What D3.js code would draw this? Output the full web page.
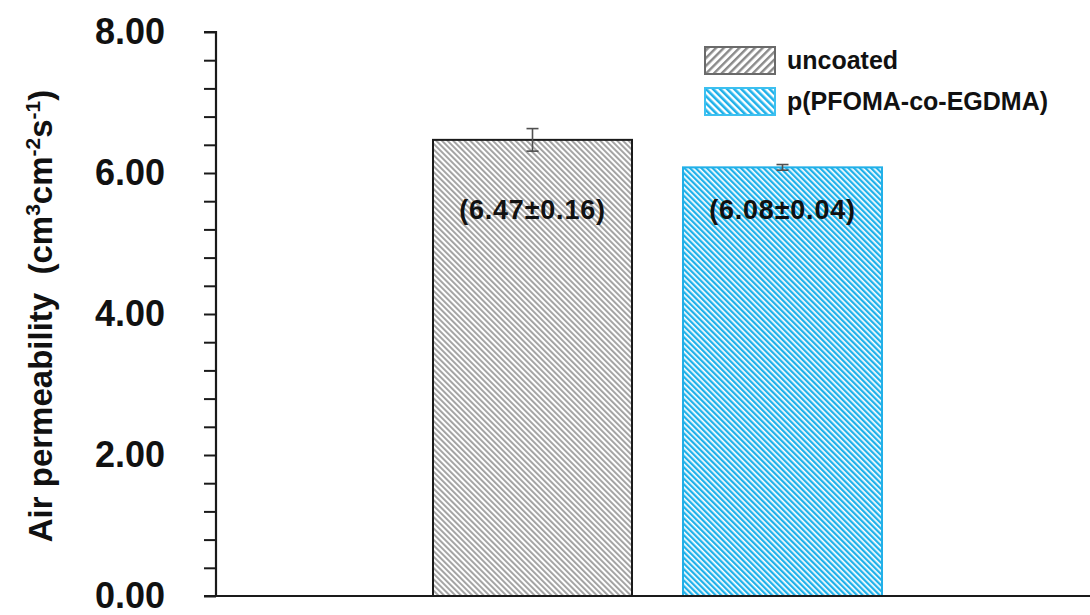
<!DOCTYPE html>
<html>
<head>
<meta charset="utf-8">
<script src="https://cdn.jsdelivr.net/npm/d3@7"></script>
<style>
  html, body { margin: 0; padding: 0; background: #fff; }
  svg { display: block; }
  text { font-family: "Liberation Sans", Arial, sans-serif; font-weight: bold; fill: #111; }
</style>
</head>
<body>
<svg id="chart" width="1090" height="615"></svg>
<script>
// Air permeability of uncoated vs. coated fabric
const categories = ["uncoated", "p(PFOMA-co-EGDMA)"];
const values = [6.47, 6.08];
const errors = [0.16, 0.04];
const valueLabels = ["(6.47\u00b10.16)", "(6.08\u00b10.04)"];
const majorTicks = [0, 2, 4, 6, 8];
const minorTicks = d3.range(0, 8.01, 0.4);

const svg = d3.select("#chart");
const W = 1090, H = 615;
const margin = { left: 216, right: 0, top: 32, bottom: 19 };

const y = d3.scaleLinear().domain([0, 8]).range([H - margin.bottom, margin.top]);
const x = d3.scaleBand()
  .domain(categories)
  .range([433, 882])
  .paddingInner(0.204)
  .paddingOuter(0);

// hatch patterns
const defs = svg.append("defs");
function hatch(id, color, size, stripe, angle) {
  const p = defs.append("pattern")
    .attr("id", id)
    .attr("patternUnits", "userSpaceOnUse")
    .attr("width", size).attr("height", size)
    .attr("patternTransform", `rotate(${angle})`);
  p.append("rect").attr("width", size).attr("height", size).attr("fill", "#fff");
  p.append("rect").attr("width", stripe).attr("height", size).attr("fill", color);
}
hatch("hatchGrayBar", "#a0a0a0", 4, 1.9, -45);
hatch("hatchBlueBar", "#1fb1ea", 4, 2.3, -45);
hatch("hatchGrayLeg", "#8a8a8a", 5.5, 2.4, 45);
hatch("hatchBlueLeg", "#1fb1ea", 5, 2.6, -45);

const fills = ["url(#hatchGrayBar)", "url(#hatchBlueBar)"];
const strokes = ["#1a1a1a", "#22b0e8"];
const legendFills = ["url(#hatchGrayLeg)", "url(#hatchBlueLeg)"];
const legendStrokes = ["#6a6a6a", "#3cc0f0"];

// bars
const bw = x.bandwidth();
svg.append("g").selectAll("rect")
  .data(categories)
  .join("rect")
  .attr("x", d => x(d))
  .attr("y", (d, i) => y(values[i]))
  .attr("width", bw)
  .attr("height", (d, i) => y(0) - y(values[i]))
  .attr("fill", (d, i) => fills[i])
  .attr("stroke", (d, i) => strokes[i])
  .attr("stroke-width", 2);

// error bars
const eb = svg.append("g").attr("stroke", "#505050").attr("stroke-width", 1.6);
categories.forEach((c, i) => {
  const cx = x(c) + bw / 2;
  const hi = y(values[i] + errors[i]), lo = y(values[i] - errors[i]);
  eb.append("line").attr("x1", cx).attr("x2", cx).attr("y1", hi).attr("y2", lo);
  eb.append("line").attr("x1", cx - 6).attr("x2", cx + 6).attr("y1", hi).attr("y2", hi);
  eb.append("line").attr("x1", cx - 6).attr("x2", cx + 6).attr("y1", lo).attr("y2", lo);
});

// value labels
svg.append("g").selectAll("text")
  .data(categories)
  .join("text")
  .attr("x", d => x(d) + bw / 2)
  .attr("y", 219)
  .attr("text-anchor", "middle")
  .attr("font-size", 27)
  .attr("letter-spacing", 0.8)
  .text((d, i) => valueLabels[i]);

// y axis
const yAxis = d3.axisLeft(y).tickValues(minorTicks).tickSize(12).tickFormat("");
const gy = svg.append("g").attr("transform", `translate(${margin.left},0)`).call(yAxis);
gy.select(".domain").attr("stroke", "#1a1a1a").attr("stroke-width", 2.2).attr("d", `M-12,${y(8)}H0V${y(0)}`);
gy.selectAll(".tick line").attr("stroke", "#1a1a1a").attr("stroke-width", 2);

svg.append("g").selectAll("text")
  .data(majorTicks)
  .join("text")
  .attr("x", 165)
  .attr("y", d => y(d) + 12)
  .attr("text-anchor", "end")
  .attr("font-size", 36)
  .text(d => d.toFixed(2));

// x axis baseline
svg.append("line")
  .attr("x1", margin.left - 12).attr("x2", W)
  .attr("y1", y(0)).attr("y2", y(0))
  .attr("stroke", "#1a1a1a").attr("stroke-width", 2.2);

// y axis title
const yt = svg.append("text")
  .attr("transform", `translate(52,${316}) rotate(-90)`)
  .attr("text-anchor", "middle")
  .attr("font-size", 33);
yt.append("tspan").text("Air permeability\u00a0\u00a0(cm");
yt.append("tspan").attr("font-size", 21).attr("dy", -12).text("3");
yt.append("tspan").attr("dy", 12).text("cm");
yt.append("tspan").attr("font-size", 21).attr("dy", -12).text("-2");
yt.append("tspan").attr("dy", 12).text("s");
yt.append("tspan").attr("font-size", 21).attr("dy", -12).text("-1");
yt.append("tspan").attr("dy", 12).text(")");

// legend
const lg = svg.append("g");
categories.forEach((c, i) => {
  const ly = 47 + i * 41;
  lg.append("rect")
    .attr("x", 705).attr("y", ly)
    .attr("width", 70).attr("height", 27)
    .attr("fill", legendFills[i])
    .attr("stroke", legendStrokes[i]).attr("stroke-width", 2);
  lg.append("text")
    .attr("x", 787).attr("y", ly + 22)
    .attr("font-size", 25)
    .text(c);
});
</script>
</body>
</html>
